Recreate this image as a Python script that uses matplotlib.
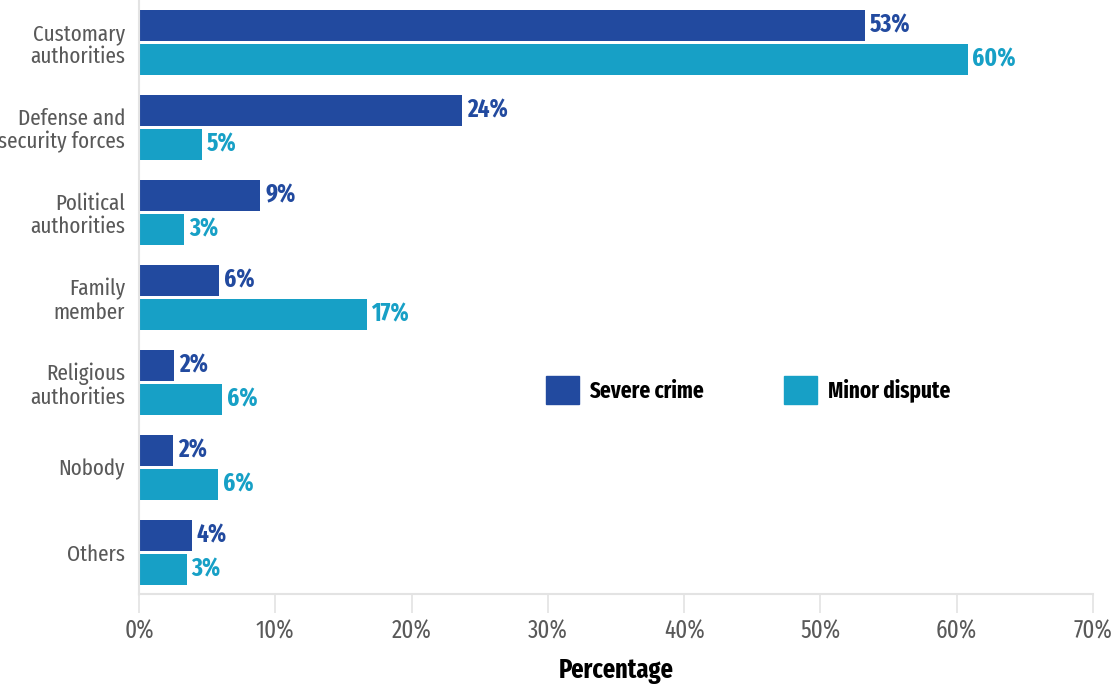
import matplotlib.pyplot as plt
import numpy as np
from matplotlib.patches import Patch

# Data
categories = ["Customary\nauthorities", "Defense and\nsecurity forces", "Political\nauthorities",
              "Family\nmember", "Religious\nauthorities", "Nobody", "Others"]
severe_crime = [53.3, 23.7, 8.9, 5.9, 2.6, 2.5, 3.9]
minor_dispute = [60.8, 4.6, 3.3, 16.7, 6.1, 5.8, 3.5]
severe_labels = ["53%", "24%", "9%", "6%", "2%", "2%", "4%"]
minor_labels = ["60%", "5%", "3%", "17%", "6%", "6%", "3%"]
xticks = [0, 10, 20, 30, 40, 50, 60, 70]

dark_blue = "#224a9f"
cyan = "#17a0c6"
text_gray = "#595959"

plt.rcParams['font.family'] = ['Fira Sans Extra Condensed', 'DejaVu Sans']

fig = plt.figure(figsize=(11.18, 6.87), dpi=100)
ax = fig.add_axes([139 / 1118, 1 - 594 / 687, 954 / 1118, 594 / 687])

y = np.arange(len(categories))
h = 0.364
ax.barh(y - 0.2, severe_crime, height=h, color=dark_blue)
ax.barh(y + 0.2, minor_dispute, height=h, color=cyan)

for i in range(len(categories)):
    ax.text(severe_crime[i] + 0.35, y[i] - 0.2, severe_labels[i], color=dark_blue,
            fontsize=18, fontweight='bold', va='center', ha='left')
    ax.text(minor_dispute[i] + 0.35, y[i] + 0.2, minor_labels[i], color=cyan,
            fontsize=18, fontweight='bold', va='center', ha='left')

ax.set_xlim(0, 70)
ax.set_ylim(6.49, -0.5)
ax.set_xticks(xticks)
ax.set_xticklabels([f"{t}%" for t in xticks], fontsize=18, color=text_gray)
ax.set_yticks(y)
ax.set_yticklabels(categories, fontsize=16.5, color=text_gray, ha='right', linespacing=1.1)
ax.tick_params(axis='y', length=0, pad=10)
ax.tick_params(axis='x', length=14, width=1.2, color="#e3e3e3", pad=4)

for side in ['top', 'right']:
    ax.spines[side].set_visible(False)
ax.spines['left'].set_color("#e3e3e3")
ax.spines['bottom'].set_color("#e3e3e3")
ax.spines['left'].set_linewidth(1.5)
ax.spines['bottom'].set_linewidth(1.5)

ax.set_xlabel("Percentage", fontsize=19, fontweight='bold', color='black', labelpad=10)

handles = [Patch(color=dark_blue, label="Severe crime"), Patch(color=cyan, label="Minor dispute")]
ax.legend(handles=handles, loc='center left', bbox_to_anchor=((546 - 139) / 954, 1 - 390 / 594),
          ncol=2, frameon=False, borderaxespad=0, borderpad=0, handlelength=1.44, handleheight=1.44,
          handletextpad=0.45, columnspacing=3.5, prop={'weight': 'bold', 'size': 16.5})

fig.savefig("out.png", dpi=100)
